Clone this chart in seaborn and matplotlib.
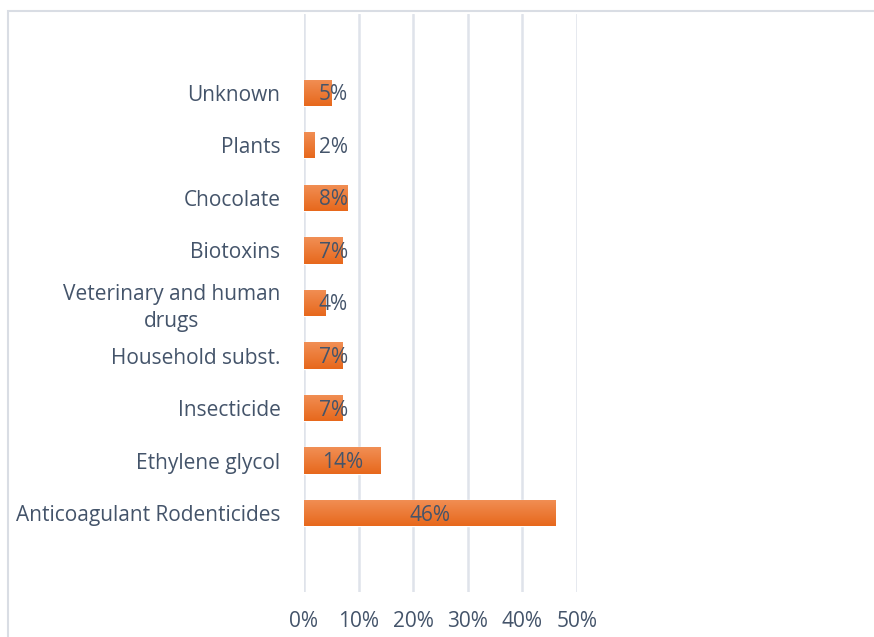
import numpy as np
import pandas as pd
import matplotlib
matplotlib.use("Agg")
import matplotlib.pyplot as plt
import seaborn as sns
from matplotlib.patches import Rectangle
from matplotlib.transforms import offset_copy

categories = ["Anticoagulant Rodenticides", "Ethylene glycol", "Insecticide",
              "Household subst.", "Veterinary and human\ndrugs", "Biotoxins",
              "Chocolate", "Plants", "Unknown"]
values = [46, 14, 7, 7, 4, 7, 8, 2, 5]
x_ticks = [0, 10, 20, 30, 40, 50]
x_tick_labels = ["0%", "10%", "20%", "30%", "40%", "50%"]

sns.set_theme(style="white")
plt.rcParams["font.family"] = ["Open Sans", "DejaVu Sans"]
TEXT = "#44546a"
GRID = "#dfe3ea"
FS = 15

df = pd.DataFrame({"cat": categories, "val": values})
order = categories[::-1]  # top to bottom

fig = plt.figure(figsize=(8.74, 6.37), dpi=100)
ax = fig.add_axes([304/874, 45/637, 273/874, 578/637])

sns.barplot(data=df, y="cat", x="val", order=order, orient="h",
            color="#ed7d31", width=0.5, ax=ax, saturation=1)

# gradient fill
grad = np.linspace(0, 1, 64).reshape(-1, 1)
top = np.array([0xf1, 0x8f, 0x55]) / 255
bot = np.array([0xe7, 0x68, 0x1c]) / 255
img = top[None, None, :] * (1 - grad[:, :, None]) + bot[None, None, :] * grad[:, :, None]
for p in ax.patches:
    x0, y0 = p.get_x(), p.get_y()
    w, h = p.get_width(), p.get_height()
    im = ax.imshow(img, extent=[x0, x0 + w, y0 + h, y0], aspect="auto",
                   origin="upper", zorder=3, interpolation="bilinear")
    im.set_clip_path(p)
    p.set_zorder(3)

ax.set_xlim(0, 50)
ax.set_ylim(len(order) - 0.5 + 1.0, -1.5)
ax.set_xticks(x_ticks)
ax.set_xticklabels(x_tick_labels)
ax.set_xlabel("")
ax.set_ylabel("")
ax.grid(axis="x", color=GRID, linewidth=1.8, zorder=0)
ax.set_axisbelow(True)
for s in ax.spines.values():
    s.set_visible(False)
ax.tick_params(axis="x", length=0, pad=14, labelsize=FS, labelcolor=TEXT)
ax.tick_params(axis="y", length=0, pad=17, labelsize=FS, labelcolor=TEXT)
for t in ax.get_yticklabels():
    t.set_multialignment("center")
    t.set_linespacing(1.35)

# value labels
vals = dict(zip(categories, values))
lbl_tr = offset_copy(ax.transData, fig=fig, x=0, y=-2, units="dots")
for i, cat in enumerate(order):
    v = vals[cat]
    xc = max(v / 2, 5.4)
    ax.text(xc, i, f"{v}%", ha="center", va="center", fontsize=FS,
            color=TEXT, zorder=5, transform=lbl_tr)

# chart border
fig.patches.append(Rectangle((8/874, -0.2), 1.2, 0.2 + (637 - 10.5)/637,
                             transform=fig.transFigure, fill=False,
                             edgecolor="#d9dde4", linewidth=1.5))

fig.savefig("out.png", dpi=100)
